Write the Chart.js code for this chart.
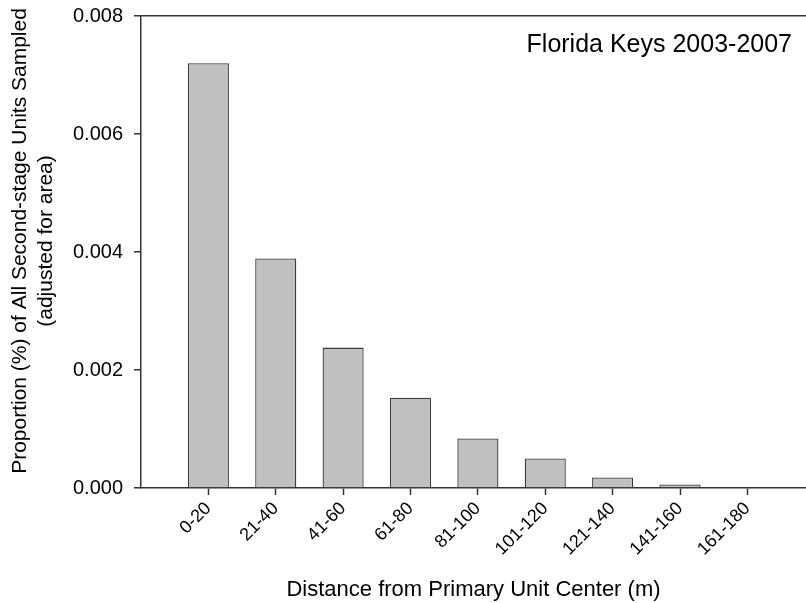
<!DOCTYPE html>
<html>
<head>
<meta charset="utf-8">
<script src="https://cdn.jsdelivr.net/npm/chart.js@4.4.0/dist/chart.umd.min.js"></script>
<style>
    html, body { margin: 0; padding: 0; background: #fff; overflow: hidden; }
    #wrap { width: 806px; height: 603px; position: relative; }
</style>
</head>
<body>
<div id="wrap"><canvas id="distChart"></canvas></div>
<script>
// 거리 구간 (x축 라벨)
const categories = ['0-20', '21-40', '41-60', '61-80', '81-100', '101-120', '121-140', '141-160', '161-180'];
// 비율 값
const proportions = [0.0072, 0.00389, 0.00238, 0.00153, 0.00084, 0.0005, 0.00018, 0.00006, 0];
const yTicks = [0, 0.002, 0.004, 0.006, 0.008];
const chartLabel = 'Florida Keys 2003-2007';
const yTitleLines = ['Proportion (%) of All Second-stage Units Sampled', '(adjusted for area)'];

const axisColor = '#333';
const fontFamily = '"Liberation Sans", Arial, sans-serif';

// 플롯 안 라벨 + y축 제목
const extraText = {
    id: 'extraText',
    afterDraw(chart) {
        const ctx = chart.ctx;
        ctx.save();
        ctx.fillStyle = '#000';
        ctx.font = '25px ' + fontFamily;
        ctx.textAlign = 'right';
        ctx.textBaseline = 'alphabetic';
        ctx.fillText(chartLabel, 792, 52);

        // y축 제목 (세로 두 줄)
        ctx.font = '21px ' + fontFamily;
        ctx.textAlign = 'center';
        ctx.textBaseline = 'middle';
        ctx.translate(0, 241);
        ctx.rotate(-Math.PI / 2);
        ctx.fillText(yTitleLines[0], 0, 20);
        ctx.fillText(yTitleLines[1], 0, 46);
        ctx.restore();
    }
};

new Chart(document.getElementById('distChart'), {
    type: 'bar',
    data: {
        datasets: [{
            data: proportions.map((v, i) => ({ x: i, y: v })),
            backgroundColor: '#c0c0c0',
            borderColor: '#3a3a3a',
            borderWidth: 1.3,
            barPercentage: 0.61,
            categoryPercentage: 1,
        }],
    },
    options: {
        responsive: true,
        maintainAspectRatio: false,
        animation: false,
        layout: { padding: { top: 16, left: 0, right: 0, bottom: 0 } },
        plugins: {
            legend: { display: false },
            tooltip: { enabled: false },
        },
        scales: {
            x: {
                type: 'linear',
                offset: false,
                min: -1,
                max: 8.87,
                afterBuildTicks: scale => {
                    scale.ticks = categories.map((_, i) => ({ value: i }));
                },
                afterFit: scale => { scale.height = 115; },
                grid: {
                    offset: false,
                    drawOnChartArea: false,
                    tickLength: 7,
                    tickColor: axisColor,
                    tickWidth: 1.5,
                },
                border: { display: true, color: axisColor, width: 1.5 },
                ticks: {
                    autoSkip: false,
                    maxRotation: 45,
                    minRotation: 45,
                    padding: 3,
                    color: '#000',
                    font: { family: fontFamily, size: 18 },
                    callback: value => categories[value] ?? '',
                },
                title: {
                    display: true,
                    text: 'Distance from Primary Unit Center (m)',
                    color: '#000',
                    font: { family: fontFamily, size: 22 },
                    padding: { top: 0, bottom: 0 },
                },
            },
            y: {
                min: 0,
                max: 0.008,
                afterBuildTicks: scale => {
                    scale.ticks = yTicks.map(v => ({ value: v }));
                },
                afterFit: scale => {
                    scale.width = 141;
                    scale.paddingTop = 0;
                    scale.paddingBottom = 0;
                },
                grid: {
                    drawOnChartArea: true,
                    color: ctx => (ctx.tick && ctx.tick.value === 0.008 ? axisColor : 'rgba(0,0,0,0)'),
                    lineWidth: 1.5,
                    tickLength: 7,
                    tickColor: axisColor,
                    tickWidth: 1.5,
                },
                border: { display: true, color: axisColor, width: 1.5 },
                ticks: {
                    padding: 11,
                    color: '#000',
                    font: { family: fontFamily, size: 20 },
                    callback: value => value.toFixed(3),
                },
                title: { display: false },
            },
        },
    },
    plugins: [extraText],
});
</script>
</body>
</html>
